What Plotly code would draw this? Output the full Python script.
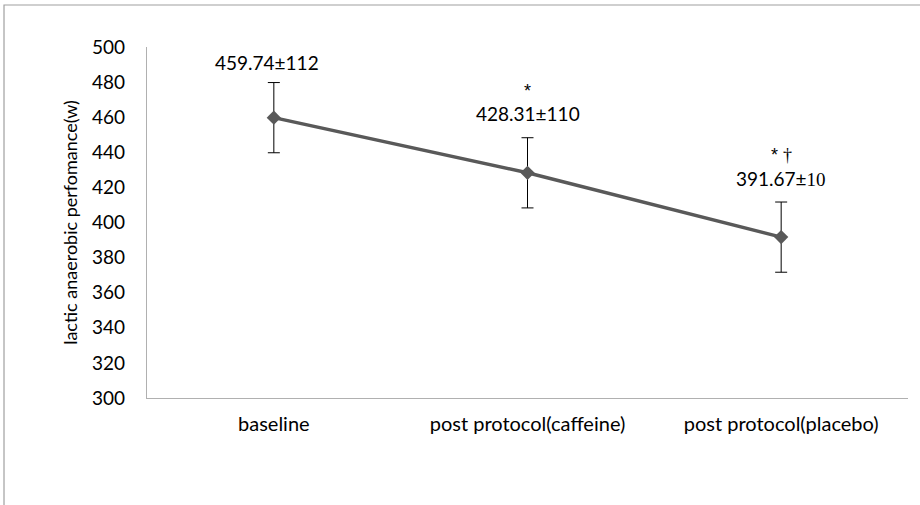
import plotly.graph_objects as go

categories = ["baseline", "post protocol(caffeine)", "post protocol(placebo)"]
means = [459.74, 428.31, 391.67]
errors = [20, 20, 20]
value_labels = ["459.74±112", "428.31±110",
                "391.67±<span style='font-family:Liberation Serif'>10</span>"]
sig_labels = ["", "*", "* <span style='font-family:Liberation Serif'>†</span>"]
y_ticks = [300, 320, 340, 360, 380, 400, 420, 440, 460, 480, 500]

FONT = "Lato"
GRAY = "#595959"

fig = go.Figure()
fig.add_trace(go.Scatter(
    x=categories, y=means, mode="lines+markers",
    line=dict(color=GRAY, width=3.5),
    marker=dict(symbol="diamond", size=11, color=GRAY),
    error_y=dict(type="data", array=errors, color="black", thickness=1, width=6),
    showlegend=False, hoverinfo="skip",
))

label_shift = [55, 59, 59]
label_xshift = [-7, 0, 0]
for c, m, lab, sig, ys, xs in zip(categories, means, value_labels, sig_labels, label_shift, label_xshift):
    fig.add_annotation(x=c, y=m, text=lab, showarrow=False, yshift=ys, xshift=xs,
                       font=dict(family=FONT, size=19, color="black"), yanchor="middle")
    if sig:
        fig.add_annotation(x=c, y=m, text=sig, showarrow=False, yshift=ys + 11,
                           font=dict(family="Liberation Sans", size=18, color="black"),
                           yanchor="bottom")

# outer frame lines (top and left)
fig.add_shape(type="path", xref="paper", yref="paper",
              path="M -0.1879 -0.305 L -0.1879 1.1197 L 1.02 1.1197",
              line=dict(color="#a0a0a0", width=1.2))

fig.update_layout(
    width=920, height=505, autosize=False,
    margin=dict(l=147, r=12, t=47, b=107, autoexpand=False),
    paper_bgcolor="white", plot_bgcolor="white",
    font=dict(family=FONT, size=18, color="black"),
    xaxis=dict(type="category", range=[-0.5, 2.5], showline=True, linecolor="#b0b0b0",
               linewidth=1.3, showgrid=False, ticks="", zeroline=False, automargin=False,
               ticklabelstandoff=8, tickfont=dict(family=FONT, size=20, color="black")),
    yaxis=dict(range=[300, 500], tickvals=y_ticks, showline=True, linecolor="#b0b0b0",
               linewidth=1.3, showgrid=False, ticks="", zeroline=False, automargin=False,
               ticklabelstandoff=17, tickfont=dict(family=FONT, size=19, color="black"),
               title=dict(text="lactic anaerobic perfomance(w)", standoff=9,
                          font=dict(family=FONT, size=18, color="black"))),
)

fig.write_html("out.html", config={"displayModeBar": False},
               post_script="document.body.style.margin='0';")
